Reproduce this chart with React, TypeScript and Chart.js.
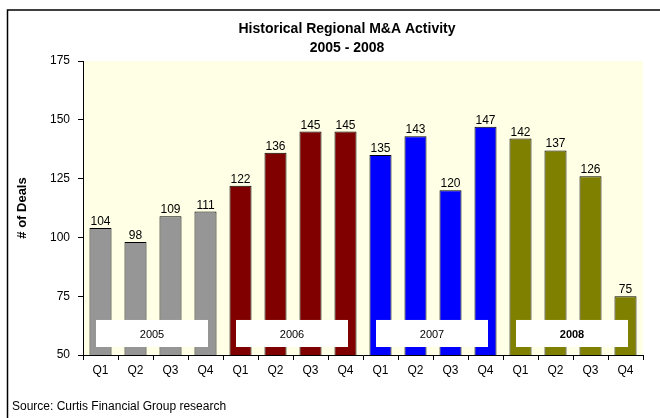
import React, { useEffect, useRef } from 'react';
import { Chart, registerables } from 'chart.js';

Chart.register(...registerables);

const quarterLabels = ['Q1', 'Q2', 'Q3', 'Q4', 'Q1', 'Q2', 'Q3', 'Q4', 'Q1', 'Q2', 'Q3', 'Q4', 'Q1', 'Q2', 'Q3', 'Q4'];
const dealCounts = [104, 98, 109, 111, 122, 136, 145, 145, 135, 143, 120, 147, 142, 137, 126, 75];
const yearLabels = ['2005', '2006', '2007', '2008'];
const yearBold = [false, false, false, true];
const yearColors = ['#969696', '#800000', '#0000FF', '#808000'];
const yMin = 50;
const yMax = 175;
const yStep = 25;
const titleLines = ['Historical Regional M&A Activity', '2005 - 2008'];
const yAxisTitle = '# of Deals';
const sourceText = 'Source: Curtis Financial Group research';

const FONT = '"Liberation Sans", Arial, sans-serif';

const decorPlugin = {
  id: 'decor',
  beforeDraw(chart: any) {
    const { ctx, chartArea } = chart;
    ctx.save();
    ctx.fillStyle = '#ffffff';
    ctx.fillRect(0, 0, chart.width, chart.height);
    ctx.strokeStyle = '#000000';
    ctx.lineWidth = 1.5;
    ctx.beginPath();
    ctx.moveTo(7.5, chart.height);
    ctx.lineTo(7.5, 10);
    ctx.lineTo(chart.width, 10);
    ctx.stroke();
    ctx.fillStyle = '#FFFFE6';
    ctx.fillRect(chartArea.left, chartArea.top, chartArea.right - chartArea.left, chartArea.bottom - chartArea.top);
    ctx.restore();
  },
  afterDatasetsDraw(chart: any) {
    const { ctx } = chart;
    const xs = chart.scales.x;
    const ys = chart.scales.y;
    const meta = chart.getDatasetMeta(0);
    ctx.save();
    // value labels
    ctx.fillStyle = '#000000';
    ctx.font = '12px ' + FONT;
    ctx.textAlign = 'center';
    ctx.textBaseline = 'alphabetic';
    meta.data.forEach((bar: any, i: number) => {
      ctx.fillText(String(dealCounts[i]), bar.x, bar.y - 3);
    });
    // year boxes
    const catW = xs.getPixelForValue(1) - xs.getPixelForValue(0);
    const boxTop = ys.getPixelForValue(64.9);
    const boxBot = ys.getPixelForValue(53.4);
    yearLabels.forEach((yr, g) => {
      const c = (xs.getPixelForValue(g * 4) + xs.getPixelForValue(g * 4 + 3)) / 2 - 1;
      const hw = catW * 1.6;
      ctx.fillStyle = '#ffffff';
      ctx.fillRect(c - hw, boxTop, hw * 2, boxBot - boxTop);
      ctx.fillStyle = '#000000';
      ctx.font = (yearBold[g] ? 'bold ' : '') + '11px ' + FONT;
      ctx.textAlign = 'center';
      ctx.textBaseline = 'middle';
      ctx.fillText(yr, c, (boxTop + boxBot) / 2 + 1);
    });
    // titles
    ctx.font = 'bold 14px ' + FONT;
    ctx.textAlign = 'center';
    ctx.textBaseline = 'middle';
    ctx.fillText(titleLines[0], 347, 29);
    ctx.fillText(titleLines[1], 347, 48);
    // source
    ctx.font = '12px ' + FONT;
    ctx.textAlign = 'left';
    ctx.textBaseline = 'alphabetic';
    ctx.fillText(sourceText, 12, 410);
    ctx.restore();
  },
};

export default function App() {
  const canvasRef = useRef<HTMLCanvasElement | null>(null);

  useEffect(() => {
    document.body.style.margin = '0';
    const canvas = canvasRef.current;
    if (!canvas) return;
    const chart = new Chart(canvas, {
      type: 'bar',
      data: {
        labels: quarterLabels,
        datasets: [
          {
            data: dealCounts,
            backgroundColor: dealCounts.map((_, i) => yearColors[Math.floor(i / 4)]),
            borderColor: '#000000',
            borderWidth: 1,
            barPercentage: 0.63,
            categoryPercentage: 1,
          },
        ],
      },
      options: {
        responsive: false,
        animation: false,
        layout: { padding: { left: 8, right: 17, top: 61, bottom: 0 } },
        plugins: {
          legend: { display: false },
          title: { display: false },
          tooltip: { enabled: false },
        },
        scales: {
          x: {
            grid: {
              display: true,
              drawOnChartArea: false,
              drawTicks: true,
              tickLength: 5,
              offset: true,
              color: '#000000',
            },
            border: { display: true, color: '#000000', width: 1 },
            ticks: {
              color: '#000000',
              font: { family: FONT, size: 12 },
              padding: 3,
              maxRotation: 0,
              autoSkip: false,
            },
            afterFit(scale: any) {
              scale.height = 63;
            },
          },
          y: {
            min: yMin,
            max: yMax,
            grid: {
              display: true,
              drawOnChartArea: false,
              drawTicks: true,
              tickLength: 5,
              color: '#000000',
            },
            border: { display: true, color: '#000000', width: 1 },
            ticks: {
              stepSize: yStep,
              color: '#000000',
              font: { family: FONT, size: 12 },
              padding: 8,
            },
            title: {
              display: true,
              text: yAxisTitle,
              color: '#000000',
              font: { family: FONT, size: 13, weight: 'bold' },
              padding: { top: 7, bottom: 0 },
            },
            afterFit(scale: any) {
              scale.width = 75;
            },
          },
        },
      },
      plugins: [decorPlugin],
    });
    return () => chart.destroy();
  }, []);

  return (
    <div style={{ width: 660, height: 418 }}>
      <canvas ref={canvasRef} width={660} height={418} style={{ display: 'block' }} />
    </div>
  );
}
